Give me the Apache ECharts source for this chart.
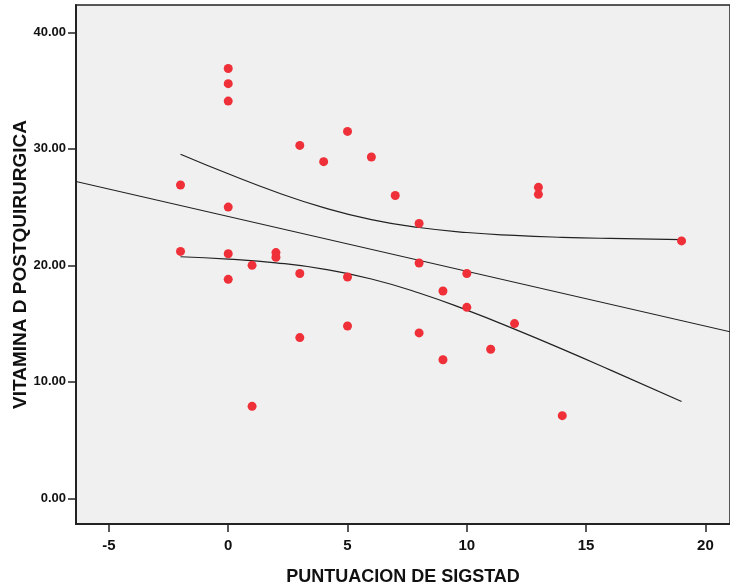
<!DOCTYPE html>
<html>
<head>
<meta charset="utf-8">
<script src="https://cdn.jsdelivr.net/npm/echarts@6/dist/echarts.min.js"></script>
<style>
  html, body { margin: 0; padding: 0; background: #fff; }
  #chart { width: 730px; height: 585px; }
</style>
</head>
<body>
<div id="chart"></div>
<script>
// Scatter points: SIGSTAD score (x) and post-surgical vitamin D (y)
var sigstad = [-2, -2, 0, 0, 0, 0, 0, 0, 1, 1, 2, 2, 3, 3, 3, 4, 5, 5, 5, 6, 7, 8, 8, 8, 9, 9, 10, 10, 11, 12, 13, 13, 14, 19];
var vitaminD = [26.9, 21.2, 36.9, 35.6, 34.1, 25.0, 21.0, 18.8, 20.0, 7.9, 21.1, 20.7, 30.3, 19.3, 13.8, 28.9, 31.5, 19.0, 14.8, 29.3, 26.0, 23.6, 20.2, 14.2, 17.8, 11.9, 19.3, 16.4, 12.8, 15.0, 26.7, 26.1, 7.1, 22.1];

// Fit line (read at the plot edges)
var fitX = [-6.38, 21.03];
var fitY = [27.2, 14.3];

// Confidence band curves
var ciX = [-2, 0, 2, 4, 6, 8, 10, 12, 14, 16, 19];
var ciUpper = [29.54, 27.86, 26.30, 24.96, 23.93, 23.25, 22.82, 22.57, 22.41, 22.31, 22.21];
var ciLower = [20.74, 20.54, 20.22, 19.68, 18.83, 17.63, 16.16, 14.53, 12.81, 11.03, 8.31];

// Tick labels
var xTicks = [-5, 0, 5, 10, 15, 20];
var yTicks = [0, 10, 20, 30, 40];

function zip(a, b) { return a.map(function (v, i) { return [v, b[i]]; }); }

var chart = echarts.init(document.getElementById('chart'), null, { renderer: 'canvas' });
var lineStyle = { color: '#222', width: 1.2 };
chart.setOption({
  animation: false,
  backgroundColor: '#ffffff',
  grid: {
    left: 76, top: 5, right: 0, bottom: 61,
    outerBoundsMode: 'none', containLabel: false,
    show: true, backgroundColor: '#f0f0f0', borderColor: '#222', borderWidth: 1.5
  },
  xAxis: {
    type: 'value', min: -6.38, max: 21.03,
    splitLine: { show: false },
    axisLine: { show: true, onZero: false, lineStyle: { color: '#222', width: 2 } },
    axisTick: { show: true, length: 8, customValues: xTicks, lineStyle: { color: '#222', width: 1.5 } },
    axisLabel: { customValues: xTicks, margin: 14, color: '#111', fontSize: 15, fontWeight: 'bold', fontFamily: 'Liberation Sans, Arial, sans-serif' },
    name: 'PUNTUACION DE SIGSTAD', nameLocation: 'middle', nameGap: 44, nameMoveOverlap: false,
    nameTextStyle: { color: '#111', fontSize: 18, fontWeight: 'bold', fontFamily: 'Liberation Sans, Arial, sans-serif' }
  },
  yAxis: {
    type: 'value', min: -2.2, max: 42.35,
    splitLine: { show: false },
    axisLine: { show: true, onZero: false, lineStyle: { color: '#222', width: 2 } },
    axisTick: { show: true, length: 8, customValues: yTicks, lineStyle: { color: '#222', width: 1.5 } },
    axisLabel: { customValues: yTicks, margin: 10, color: '#111', fontSize: 13, fontWeight: 'bold', fontFamily: 'Liberation Sans, Arial, sans-serif',
      formatter: function (v) { return Number(v).toFixed(2); } },
    name: 'VITAMINA D POSTQUIRURGICA', nameLocation: 'middle', nameGap: 46, nameMoveOverlap: false,
    nameTextStyle: { color: '#111', fontSize: 19, fontWeight: 'bold', fontFamily: 'Liberation Sans, Arial, sans-serif' }
  },
  series: [
    { type: 'line', data: zip(fitX, fitY), showSymbol: false, lineStyle: lineStyle, silent: true, z: 2 },
    { type: 'line', data: zip(ciX, ciUpper), showSymbol: false, smooth: true, lineStyle: lineStyle, silent: true, z: 2 },
    { type: 'line', data: zip(ciX, ciLower), showSymbol: false, smooth: true, lineStyle: lineStyle, silent: true, z: 2 },
    { type: 'scatter', data: zip(sigstad, vitaminD), symbolSize: 9, itemStyle: { color: '#ef3038', opacity: 1 }, z: 3 }
  ]
});
</script>
</body>
</html>
